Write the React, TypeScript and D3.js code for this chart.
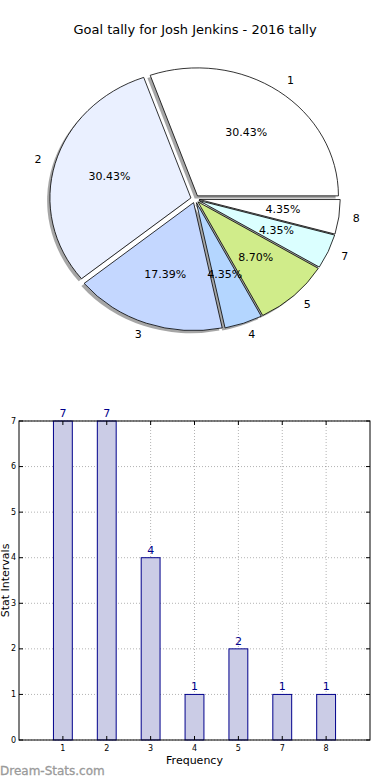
import React from 'react'
import { pie, arc, scaleLinear } from 'd3'

const title = 'Goal tally for Josh Jenkins - 2016 tally'
const categories = ['1', '2', '3', '4', '5', '7', '8']
const goals = [7, 7, 4, 1, 2, 1, 1]
const sliceColors = ['#ffffff', '#eaf0ff', '#c4d7ff', '#b4d6ff', '#d0ec8a', '#dbffff', '#ffffff']
const yTicks = [0, 1, 2, 3, 4, 5, 6, 7]

const W = 390, H = 780

function PieChart() {
  const cx = 195, cy = 199, rx = 141, ry = 128
  const explode = 0.03
  const total = goals.reduce((a, b) => a + b, 0)

  // matplotlib style: start at 3 o'clock, go counter-clockwise
  const slices = pie<number>().sort(null).startAngle(Math.PI / 2).endAngle(Math.PI / 2 - 2 * Math.PI)(goals)
  const wedge = arc<any>().innerRadius(0).outerRadius(1)

  const parts = slices.map((s, i) => {
    const mid = (s.startAngle + s.endAngle) / 2
    const ux = Math.sin(mid), uy = -Math.cos(mid)
    const ox = cx + ux * explode * rx, oy = cy + uy * explode * ry
    return {
      d: wedge(s) as string,
      ox, oy,
      label: { x: ox + ux * 1.1 * rx, y: oy + uy * 1.1 * ry, anchor: ux > 0.05 ? 'start' : ux < -0.05 ? 'end' : 'middle' },
      pct: { x: ox + ux * 0.6 * rx, y: oy + uy * 0.6 * ry },
      text: ((goals[i] / total) * 100).toFixed(2) + '%',
      color: sliceColors[i],
      cat: categories[i],
    }
  })

  return (
    <g>
      {parts.map((p, i) => (
        <path key={'s' + i} d={p.d}
          transform={`translate(${p.ox - 2.8},${p.oy + 2.6}) scale(${rx},${ry})`}
          fill="#4d4d4d" fillOpacity={0.5} stroke="none" />
      ))}
      {parts.map((p, i) => (
        <path key={'w' + i} d={p.d}
          transform={`translate(${p.ox},${p.oy}) scale(${rx},${ry})`}
          fill={p.color} stroke="#000" strokeWidth={0.8} vectorEffect="non-scaling-stroke" />
      ))}
      {parts.map((p, i) => (
        <text key={'l' + i} x={p.label.x} y={p.label.y} textAnchor={p.label.anchor}
          dominantBaseline="middle" fontSize={11}>{p.cat}</text>
      ))}
      {parts.map((p, i) => (
        <text key={'p' + i} x={p.pct.x} y={p.pct.y} textAnchor="middle"
          dominantBaseline="middle" fontSize={11}>{p.text}</text>
      ))}
    </g>
  )
}

function BarChart() {
  const left = 19, right = 370, top = 421, bottom = 740
  const x = scaleLinear().domain([-1, categories.length]).range([left, right])
  const y = scaleLinear().domain([0, 7]).range([bottom, top])
  const bw = x(0.43) - x(0)
  const navy = '#00008b'

  return (
    <g>
      {/* grid */}
      {categories.map((c, i) => (
        <line key={'gx' + i} x1={x(i)} x2={x(i)} y1={top} y2={bottom}
          stroke="#000" strokeOpacity={0.3} strokeWidth={1} strokeDasharray="1,2" />
      ))}
      {yTicks.map(t => (
        <line key={'gy' + t} x1={left} x2={right} y1={y(t)} y2={y(t)}
          stroke="#000" strokeOpacity={0.3} strokeWidth={1} strokeDasharray="1,2" />
      ))}
      {/* bars */}
      {goals.map((v, i) => (
        <rect key={'b' + i} x={x(i) - bw / 2} y={y(v)} width={bw} height={bottom - y(v)}
          fill="#cbcce6" stroke={navy} strokeWidth={1} />
      ))}
      {goals.map((v, i) => (
        <text key={'v' + i} x={x(i)} y={y(v) - 4} textAnchor="middle" fontSize={11} fill={navy}>{v}</text>
      ))}
      <rect x={left} y={top} width={right - left} height={bottom - top} fill="none" stroke="#000" strokeWidth={1} />
      {/* ticks */}
      {categories.map((c, i) => (
        <g key={'tx' + i}>
          <line x1={x(i)} x2={x(i)} y1={bottom} y2={bottom - 4} stroke="#000" />
          <line x1={x(i)} x2={x(i)} y1={top} y2={top + 4} stroke="#000" />
          <text x={x(i)} y={751} textAnchor="middle" fontSize={8}>{c}</text>
        </g>
      ))}
      {yTicks.map(t => (
        <g key={'ty' + t}>
          <line x1={left} x2={left + 4} y1={y(t)} y2={y(t)} stroke="#000" />
          <line x1={right} x2={right - 4} y1={y(t)} y2={y(t)} stroke="#000" />
          <text x={16} y={y(t)} textAnchor="end" dominantBaseline="middle" fontSize={8}>{t}</text>
        </g>
      ))}
      <text x={(left + right) / 2} y={764} textAnchor="middle" fontSize={11}>Frequency</text>
      <text transform={`translate(9,${(top + bottom) / 2}) rotate(-90)`} textAnchor="middle" fontSize={11}>Stat Intervals</text>
      <text x={0} y={775} fontSize={12} fill="#9a9a9a" stroke="#9a9a9a" strokeWidth={0.3}>Dream-Stats.com</text>
    </g>
  )
}

export default function App() {
  return (
    <svg width={W} height={H} style={{ position: 'absolute', left: 0, top: 0, background: '#fff' }}
      fontFamily="DejaVu Sans, sans-serif">
      <rect width={W} height={H} fill="#fff" />
      <text x={195} y={34} textAnchor="middle" fontSize={13}>{title}</text>
      <PieChart />
      <BarChart />
    </svg>
  )
}
